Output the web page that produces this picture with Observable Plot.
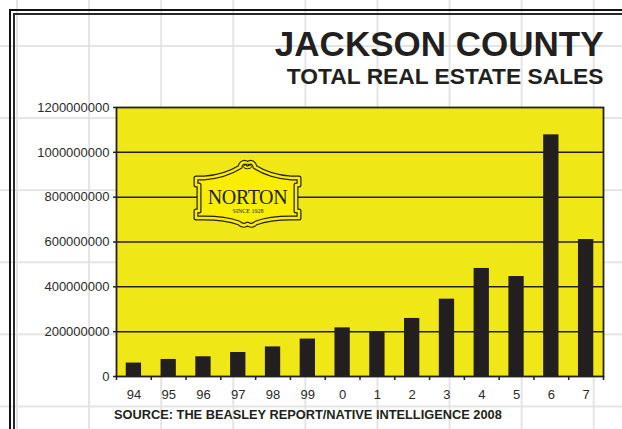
<!DOCTYPE html>
<html>
<head>
<meta charset="utf-8">
<script src="https://cdn.jsdelivr.net/npm/d3@7"></script>
<script src="https://cdn.jsdelivr.net/npm/@observablehq/plot@0.6"></script>
<style>
  html, body { margin: 0; padding: 0; background: #fff; }
  #sheet {
    position: relative;
    width: 622px;
    height: 429px;
    overflow: hidden;
    background-color: #fff;
    background-image:
      linear-gradient(to right, #e4e4e4 1.5px, transparent 1.5px),
      linear-gradient(to bottom, #e4e4e4 1.5px, transparent 1.5px);
    background-size: 72.1px 72.1px;
    background-position: 16px 45px;
  }
  .border-outer, .border-inner {
    position: absolute;
    width: 800px;
    height: 600px;
    box-sizing: border-box;
  }
  .border-outer { left: 9px; top: 9px; border-left: 2.2px solid #111; border-top: 2.2px solid #111; }
  .border-inner { left: 13px; top: 13px; border-left: 2px solid #2a2a2a; border-top: 2px solid #2a2a2a; }
  #chart { position: absolute; left: 0; top: 0; }
</style>
</head>
<body>
<div id="sheet">
  <div class="border-outer"></div>
  <div class="border-inner"></div>
  <div id="chart"></div>
</div>
<script>
// Jackson County total real estate sales, 1994–2007 (dollars)
const years = ["94", "95", "96", "97", "98", "99", "0", "1", "2", "3", "4", "5", "6", "7"];
const sales = [60e6, 76e6, 88e6, 107e6, 132e6, 167e6, 217e6, 199e6, 259e6, 345e6, 482e6, 446e6, 1078e6, 611e6];
const yTicks = [0, 200e6, 400e6, 600e6, 800e6, 1000e6, 1200e6];

const title = "JACKSON COUNTY";
const subtitle = "TOTAL REAL ESTATE SALES";
const source = "SOURCE: THE BEASLEY REPORT/NATIVE INTELLIGENCE 2008";

const data = years.map((year, i) => ({year, sales: sales[i]}));

const W = 622, H = 429;
const mL = 116, mR = 19, mT = 107, mB = 53;
const step = (W - mL - mR) / years.length;

const ink = "#231f20";
const yellow = "#f0e816";
const sans = "'Liberation Sans', Arial, Helvetica, sans-serif";

const chart = Plot.plot({
  width: W,
  height: H,
  marginLeft: mL,
  marginRight: mR,
  marginTop: mT,
  marginBottom: mB,
  style: {background: "transparent", fontFamily: sans, color: ink},
  x: {type: "band", domain: years, paddingInner: 0.56, paddingOuter: 0.28, round: false, axis: null},
  y: {domain: [0, 1200e6], axis: null},
  marks: [
    Plot.frame({fill: yellow}),
    Plot.ruleY(yTicks.filter((d) => d > 0 && d < 1200e6), {stroke: ink, strokeWidth: 1.5}),
    Plot.barY(data, {x: "year", y: "sales", fill: ink}),
    Plot.frame({stroke: ink, strokeWidth: 1.8}),
    Plot.axisY({
      ticks: yTicks, tickSize: 3, tickPadding: 4, tickFormat: (d) => String(d),
      fontSize: 13, fill: "#2b2b2b", stroke: ink, strokeWidth: 1.5, label: null
    }),
    Plot.axisX({tickSize: 0, tickPadding: 13, fontSize: 13, fill: "#2b2b2b", label: null}),
    // category separators below the axis
    Plot.ruleX(years, {x: (d) => d, y1: 0, y2: 0, insetBottom: -4, dx: -step / 2, stroke: ink, strokeWidth: 1.5}),
    Plot.ruleX(years.slice(-1), {x: (d) => d, y1: 0, y2: 0, insetBottom: -4, dx: step / 2, stroke: ink, strokeWidth: 1.5}),
    Plot.text([title], {
      text: (d) => d, frameAnchor: "top-right", textAnchor: "end", lineAnchor: "middle",
      fontSize: 35, fontWeight: "bold", fill: ink, dy: -63.2
    }),
    Plot.text([subtitle], {
      text: (d) => d, frameAnchor: "top-right", textAnchor: "end", lineAnchor: "middle",
      fontSize: 22.8, fontWeight: "bold", fill: ink, dy: -31
    }),
    Plot.text([source], {
      text: (d) => d, frameAnchor: "bottom-left", textAnchor: "start", lineAnchor: "middle",
      fontSize: 12.8, fontWeight: "bold", fill: ink, dx: -2.5, dy: 37.9
    })
  ]
});

// Norton badge inside the plot area
const badgeYellow = "#f9ee00";
const badgePath = "M0,18 L8,18 C22,17 36,12 44,7 C45,2 49,1 51.5,4 C54,1 58,2 59,7 " +
  "C67,12 81,17 95,18 L103,18 L103,25 L100,25 L100,51 L103,51 L103,58 L95,58 " +
  "C80,58 68,60 60,63 Q56,67 51.5,64 Q47,67 43,63 C35,60 23,58 8,58 " +
  "L0,58 L0,51 L3,51 L3,25 L0,25 Z";
const badge = d3.select(chart).append("g").attr("transform", "translate(196,160)");
badge.append("path").attr("d", badgePath)
  .attr("fill", badgeYellow).attr("stroke", ink).attr("stroke-width", 5).attr("stroke-linejoin", "round");
badge.append("path").attr("d", badgePath)
  .attr("fill", "none").attr("stroke", badgeYellow).attr("stroke-width", 2.6).attr("stroke-linejoin", "round");
badge.append("ellipse").attr("cx", 51.5).attr("cy", 6.5).attr("rx", 4).attr("ry", 2.3)
  .attr("fill", "none").attr("stroke", ink).attr("stroke-width", 1);
badge.append("text").attr("x", 51.5).attr("y", 43.5).attr("text-anchor", "middle")
  .attr("font-family", "'Liberation Serif', 'Times New Roman', serif").attr("font-size", 20)
  .attr("letter-spacing", -0.4).attr("fill", ink).text("NORTON");
badge.append("text").attr("x", 52).attr("y", 52.5).attr("text-anchor", "middle")
  .attr("font-family", "'Liberation Serif', 'Times New Roman', serif").attr("font-size", 6)
  .attr("fill", ink).text("SINCE 1928");

document.getElementById("chart").append(chart);
</script>
</body>
</html>
